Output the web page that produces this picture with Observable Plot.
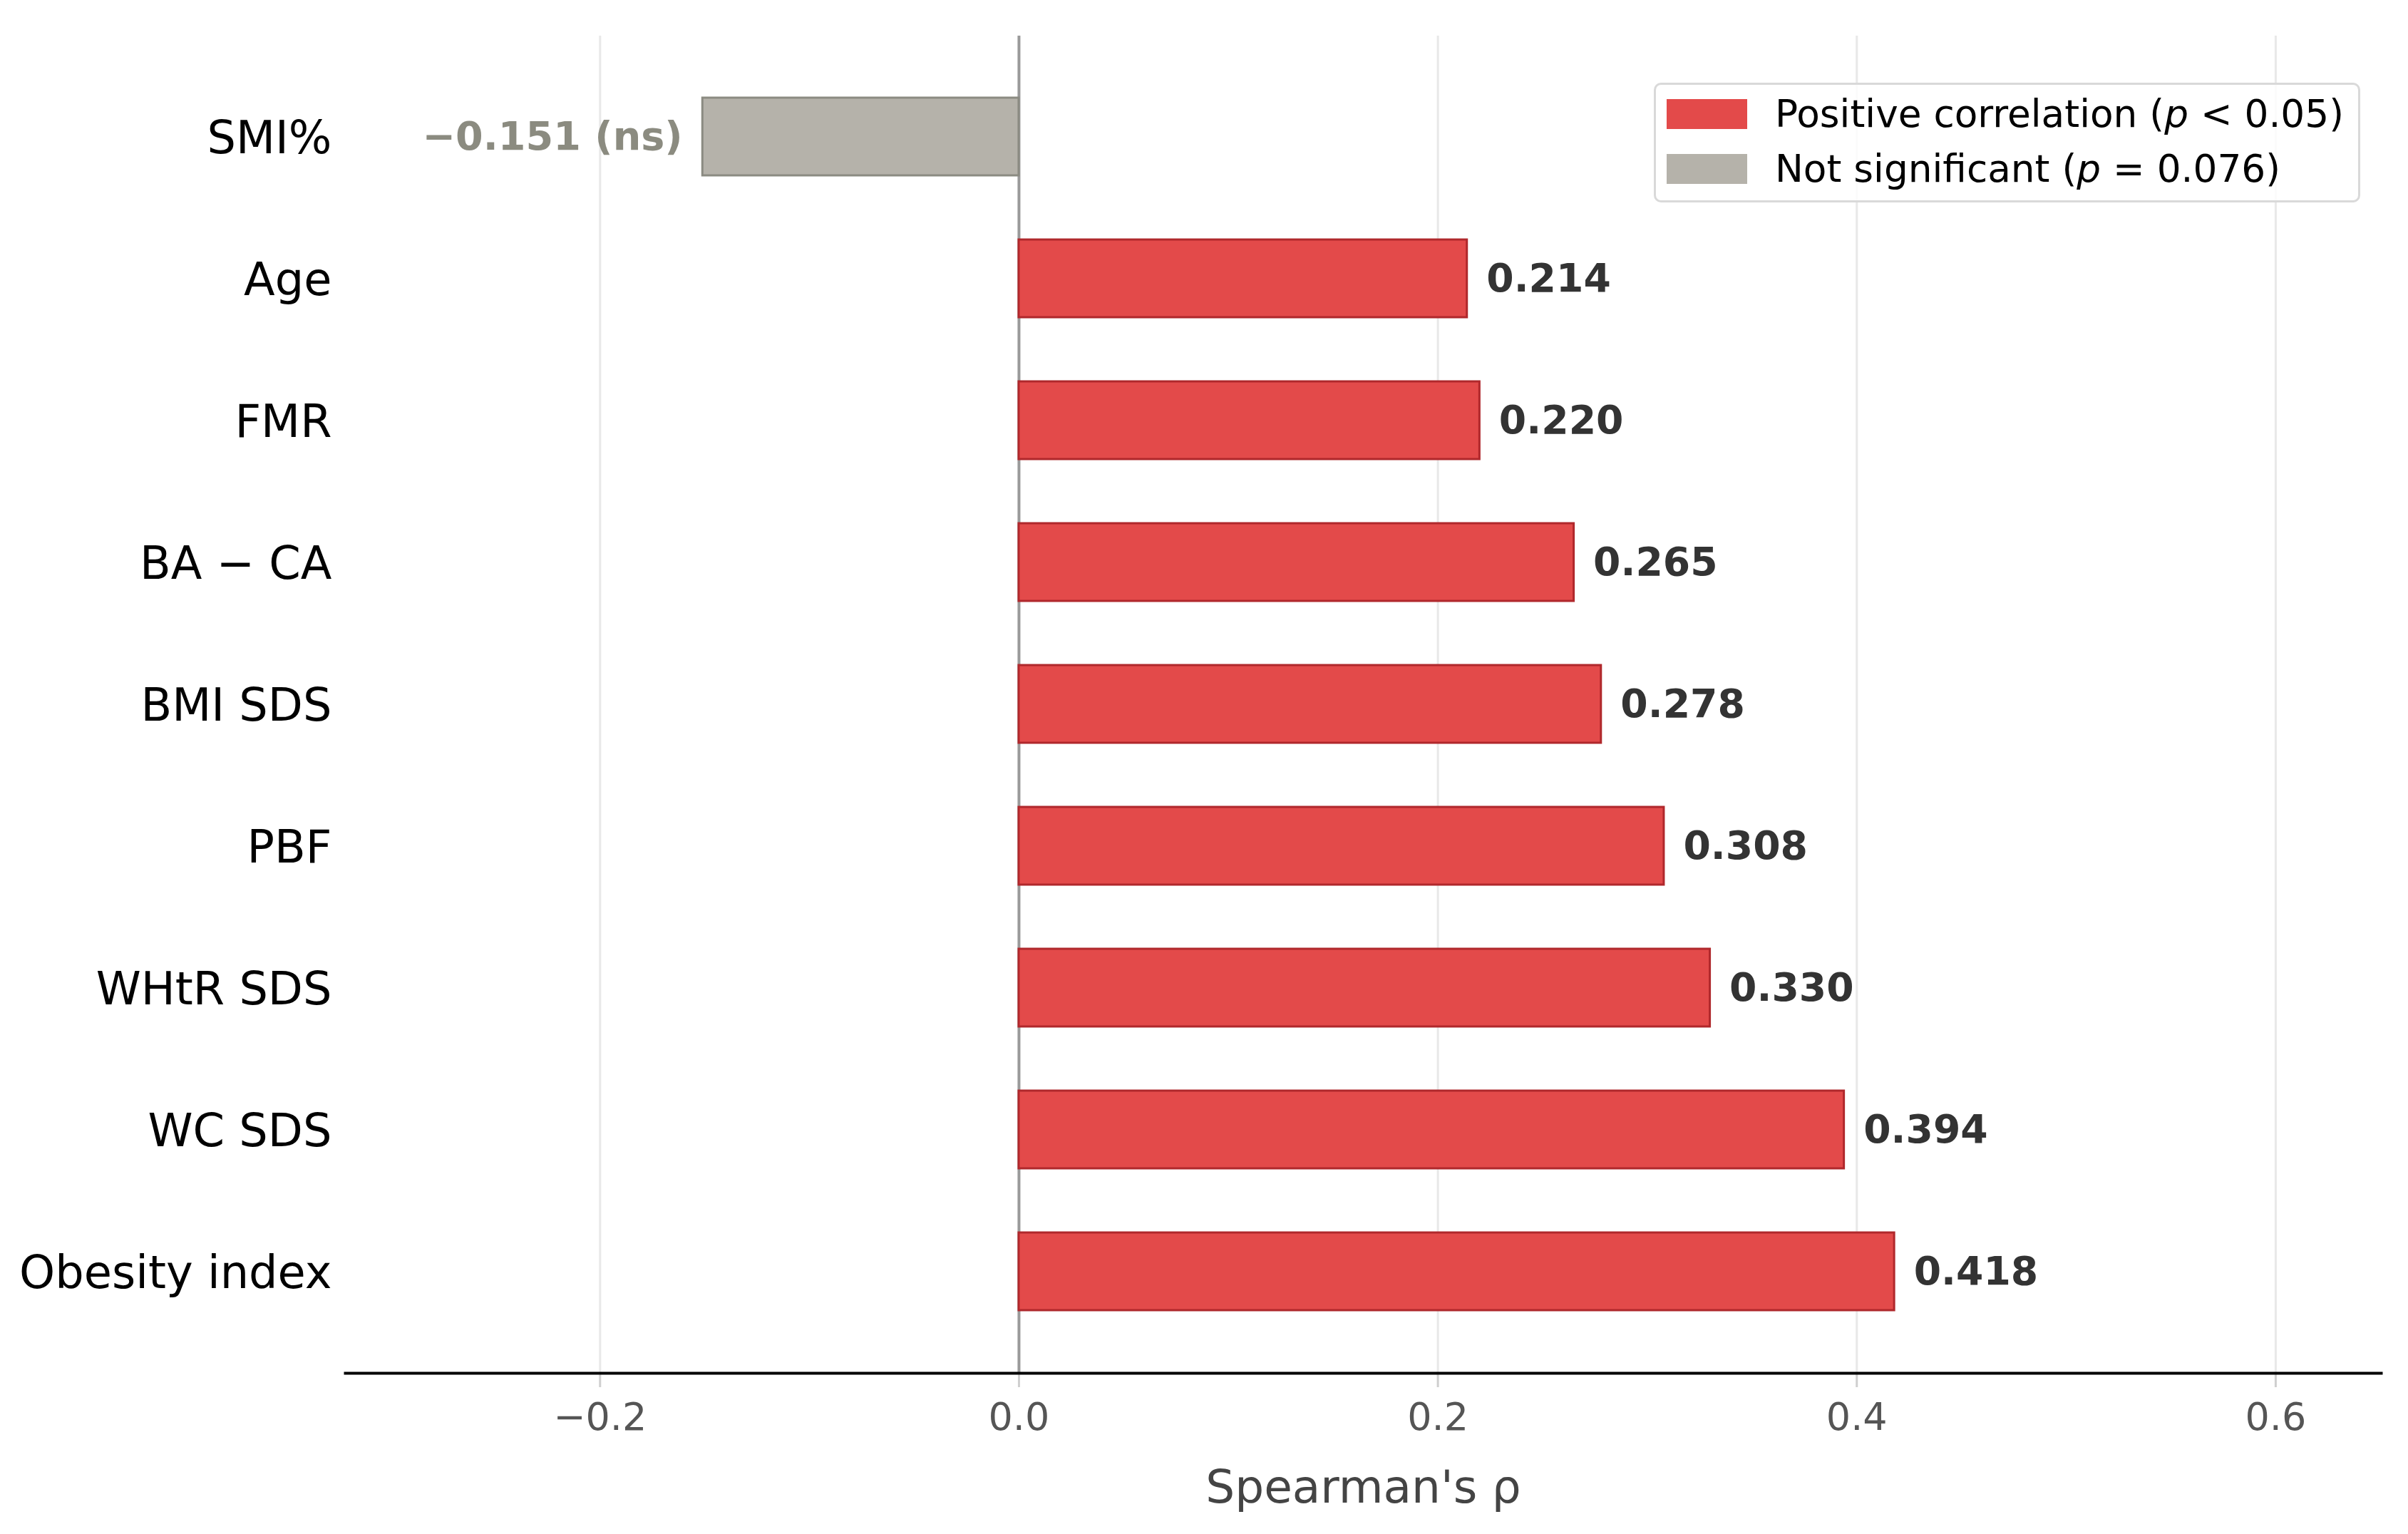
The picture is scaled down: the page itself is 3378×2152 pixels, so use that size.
<!DOCTYPE html>
<html>
<head>
<meta charset="utf-8">
<script src="https://cdn.jsdelivr.net/npm/d3@7"></script>
<script src="https://cdn.jsdelivr.net/npm/@observablehq/plot@0.6"></script>
<style>
html, body { margin: 0; padding: 0; background: #fff; }
#wrap { position: relative; width: 3378px; height: 2152px; font-family: "DejaVu Sans", sans-serif; }
#legend { position: absolute; left: 2320px; top: 116px; width: 991px; height: 168px; box-sizing: border-box;
  border: 3px solid #d9d9d9; border-radius: 10px; background: rgba(255,255,255,0.8); }
#legend .sw { position: absolute; left: 15px; width: 113px; height: 42px; }
#legend .lt { position: absolute; left: 167px; height: 60px; line-height: 60px; font-size: 53.3px; color: #000; white-space: nowrap; }
</style>
</head>
<body>
<div id="wrap"></div>
<script>
const labels = ["SMI%", "Age", "FMR", "BA − CA", "BMI SDS", "PBF", "WHtR SDS", "WC SDS", "Obesity index"];
const rho = [-0.151, 0.214, 0.220, 0.265, 0.278, 0.308, 0.330, 0.394, 0.418];
const significant = [false, true, true, true, true, true, true, true, true];
const xTicks = [-0.2, 0.0, 0.2, 0.4, 0.6];
const xLabel = "Spearman's ρ";
const legendItems = [
  {html: "Positive correlation (<i>p</i> &lt; 0.05)", color: "#e34a4a"},
  {html: "Not significant (<i>p</i> = 0.076)", color: "#b5b2aa"}
];

const data = labels.map((label, i) => ({label, rho: rho[i], sig: significant[i]}));
const fmt = d3.format(".3f");

const chart = Plot.plot({
  width: 3378,
  height: 2152,
  marginLeft: 484,
  marginRight: 38,
  marginTop: 50,
  marginBottom: 226,
  style: {fontFamily: "'DejaVu Sans', sans-serif", fontSize: "54px", background: "white", overflow: "visible"},
  x: {domain: [-0.3216, 0.6504], label: null},
  y: {domain: labels, paddingInner: 0.45, paddingOuter: 0.43, label: null},
  marks: [
    Plot.gridX(xTicks, {stroke: "#e8e8e8", strokeWidth: 3, strokeOpacity: 1}),
    Plot.ruleX([0], {stroke: "#9a9a9a", strokeWidth: 4}),
    Plot.barX(data.filter(d => d.sig), {x1: 0, x2: "rho", y: "label", fill: "#e34a4a", stroke: "#b0282c", strokeWidth: 3}),
    Plot.barX(data.filter(d => !d.sig), {x1: 0, x2: "rho", y: "label", fill: "#b5b2aa", stroke: "#8b8b82", strokeWidth: 3}),
    Plot.text(data.filter(d => d.sig), {x: "rho", y: "label", text: d => fmt(d.rho), dx: 27, textAnchor: "start", fontWeight: "bold", fill: "#333333", fontSize: 55.2}),
    Plot.text(data.filter(d => !d.sig), {x: "rho", y: "label", text: d => fmt(d.rho) + " (ns)", dx: -28, textAnchor: "end", fontWeight: "bold", fill: "#8b8b80", fontSize: 55.6}),
    Plot.axisY({tickSize: 0, tickPadding: 19, dy: 3, fontSize: 63.8, fill: "#000", label: null}),
    Plot.axisX({ticks: xTicks, tickFormat: d3.format(".1f"), tickSize: 20, tickPadding: 21, stroke: "#cfcfcf", strokeWidth: 3, fill: "#555555", fontSize: 54, label: null}),
    Plot.frame({anchor: "bottom", stroke: "#000", strokeWidth: 4}),
    Plot.text([xLabel], {frameAnchor: "bottom", dy: 181, fontSize: 64.5, fill: "#444444"})
  ]
});

const wrap = document.getElementById("wrap");
wrap.appendChild(chart);

const legend = document.createElement("div");
legend.id = "legend";
legendItems.forEach((item, i) => {
  const sw = document.createElement("div");
  sw.className = "sw";
  sw.style.top = (20 + i * 77) + "px";
  sw.style.background = item.color;
  legend.appendChild(sw);
  const lt = document.createElement("div");
  lt.className = "lt";
  lt.style.top = (11 + i * 77) + "px";
  lt.innerHTML = item.html;
  legend.appendChild(lt);
});
wrap.appendChild(legend);
</script>
</body>
</html>
